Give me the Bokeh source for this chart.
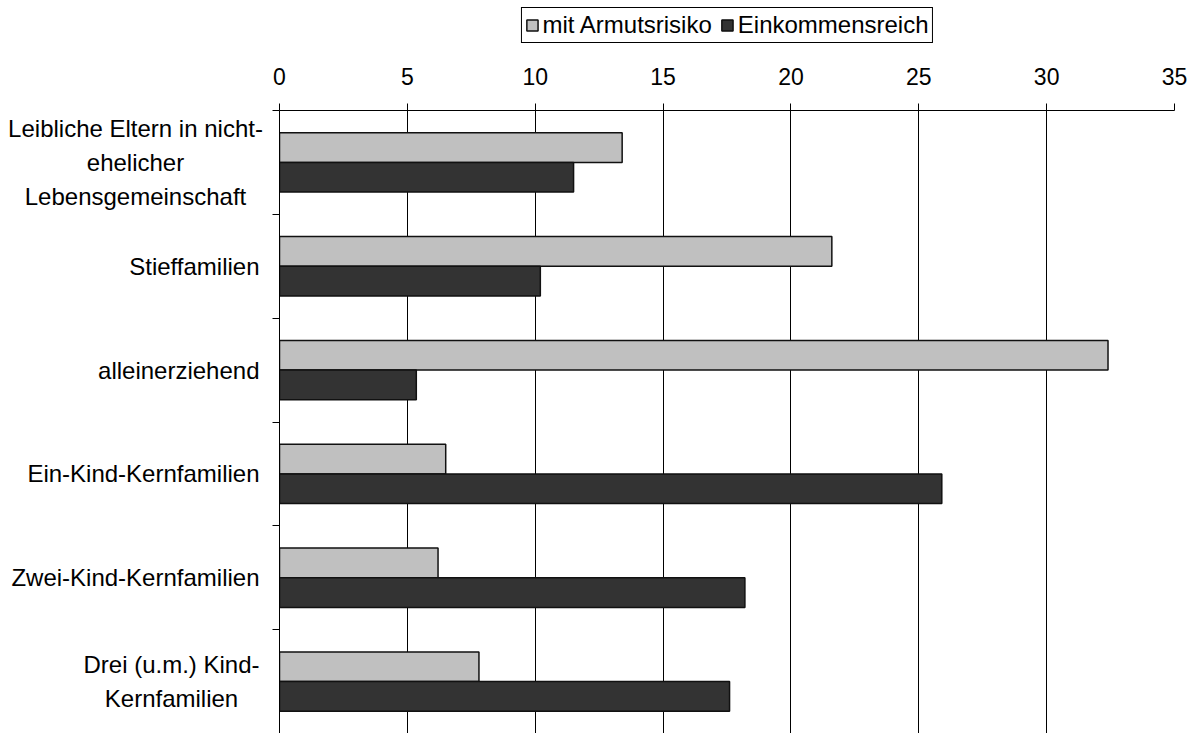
from bokeh.plotting import figure
from bokeh.models import (ColumnDataSource, FixedTicker, Legend, LegendItem, Range1d,
                          CustomJSTickFormatter)
from bokeh.layouts import row, column
from bokeh.core.properties import value
from bokeh.embed import file_html
from bokeh.resources import INLINE

# ---- data ----
categories = [
    "Leibliche Eltern in nicht-\nehelicher\nLebensgemeinschaft",
    "Stieffamilien",
    "alleinerziehend",
    "Ein-Kind-Kernfamilien",
    "Zwei-Kind-Kernfamilien",
    "Drei (u.m.) Kind-\nKernfamilien",
]
mit_armutsrisiko = [13.4, 21.6, 32.4, 6.5, 6.2, 7.8]
einkommensreich = [11.5, 10.2, 5.35, 25.9, 18.2, 17.6]
x_ticks = [0, 5, 10, 15, 20, 25, 30, 35]
series_names = ["mit Armutsrisiko", "Einkommensreich"]
colors = ["#C0C0C0", "#333333"]

FONT = "Liberation Sans"
STRIP = 50          # legend strip height
H = 733 - STRIP     # main row height
TOP = 110 - STRIP   # border above the frame in main row
n = len(categories)
centers = [n - i - 0.5 for i in range(n)]
bar_h = 0.286
y_range = Range1d(0, n)

# ---------------- main chart ----------------
src = ColumnDataSource(dict(
    y_a=[c + bar_h / 2 for c in centers],
    y_r=[c - bar_h / 2 for c in centers],
    a=mit_armutsrisiko,
    r=einkommensreich,
))

p = figure(width=926, height=H, output_backend="svg", toolbar_location=None,
           x_range=Range1d(0, 35), y_range=y_range,
           x_axis_location="above",
           min_border_left=10, min_border_right=21,
           min_border_top=TOP, min_border_bottom=0)
p.outline_line_color = None

p.hbar(y="y_a", right="a", left=0, height=bar_h, source=src,
       fill_color=colors[0], line_color="#111111", line_width=1.5)
p.hbar(y="y_r", right="r", left=0, height=bar_h, source=src,
       fill_color=colors[1], line_color="#111111", line_width=1.5)

xa = p.xaxis[0]
xa.ticker = FixedTicker(ticks=x_ticks)
xa.minor_tick_line_color = None
xa.major_tick_out = 7
xa.major_tick_in = 0
xa.major_label_standoff = 19
xa.major_label_text_font = FONT
xa.major_label_text_font_size = "23px"
xa.major_label_text_color = "black"
xa.axis_line_color = "black"
xa.major_tick_line_color = "black"

ya = p.yaxis[0]
ya.ticker = FixedTicker(ticks=list(range(n + 1)))
ya.formatter = CustomJSTickFormatter(code="return ''")
ya.minor_tick_line_color = None
ya.major_tick_out = 7
ya.major_tick_in = 0
ya.major_label_standoff = 0
ya.axis_line_color = "black"
ya.major_tick_line_color = "black"

p.xgrid.ticker = FixedTicker(ticks=x_ticks)
p.xgrid.grid_line_color = "black"
p.xgrid.grid_line_width = 1
p.ygrid.grid_line_color = None

# ---------------- category labels ----------------
q = figure(width=269, height=H, output_backend="svg", toolbar_location=None,
           x_range=Range1d(0, 269), y_range=y_range,
           x_axis_type=None, y_axis_type=None,
           min_border_left=0, min_border_right=0,
           min_border_top=TOP, min_border_bottom=0)
q.outline_line_color = None

single = [(c, y) for c, y in zip(categories, centers) if "\n" not in c]
multi = [(c, y) for c, y in zip(categories, centers) if "\n" in c]
multi_x = [135 if c.count("\n") == 2 else 171 for c, _ in multi]

q.text(x=[259] * len(single), y=[y for _, y in single], text=[c for c, _ in single],
       text_align="right", text_baseline="middle", text_font=value(FONT),
       text_font_size="24px", text_color="black")
q.text(x=multi_x, y=[y for _, y in multi], text=[c for c, _ in multi],
       text_align="center", text_baseline="middle", text_font=value(FONT),
       text_font_size="24px", text_color="black", text_line_height=1.25)

# ---------------- legend strip ----------------
s = figure(width=1195, height=STRIP, output_backend="svg", toolbar_location=None,
           x_range=Range1d(0, 1), y_range=Range1d(0, 1),
           x_axis_type=None, y_axis_type=None,
           min_border_left=279, min_border_right=21,
           min_border_top=0, min_border_bottom=0)
s.outline_line_color = None
# legend-only renderers: a tiny bar hidden under the legend box
hidden = ColumnDataSource(dict(y=[0.5], left=[0.5], right=[0.501]))
la = s.hbar(y="y", right="right", left="left", height=0.02, source=hidden,
            fill_color=colors[0], line_color="#111111", line_width=1.5)
lr = s.hbar(y="y", right="right", left="left", height=0.02, source=hidden,
            fill_color=colors[1], line_color="#111111", line_width=1.5)

legend = Legend(items=[LegendItem(label=series_names[0], renderers=[la]),
                       LegendItem(label=series_names[1], renderers=[lr])],
                orientation="horizontal", location="center")
legend.label_text_font = FONT
legend.label_text_font_size = "24px"
legend.label_text_color = "black"
legend.glyph_width = 14
legend.glyph_height = 14
legend.label_standoff = 4
legend.spacing = 8
legend.padding = 3
legend.margin = 0
legend.border_line_color = "black"
legend.border_line_alpha = 1
legend.border_line_width = 1
legend.background_fill_color = "white"
legend.background_fill_alpha = 1
s.add_layout(legend, "center")

layout = column(s, row(q, p, spacing=0), spacing=0)
open("out.html", "w").write(file_html(layout, INLINE))
